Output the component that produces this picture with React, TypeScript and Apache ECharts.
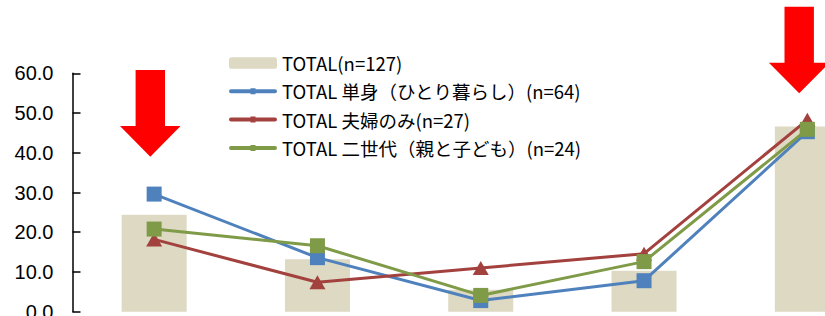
import React, { useEffect, useRef } from "react";
import * as echarts from "echarts";

const categories = ["項目1", "項目2", "項目3", "項目4", "項目5"];
const totalValues = [24.4, 13.2, 5.5, 10.3, 46.6];
const singleValues = [29.6, 13.6, 2.8, 7.8, 45.3];
const coupleValues = [18.2, 7.4, 11.0, 14.6, 48.3];
const twoGenValues = [20.8, 16.6, 4.1, 12.6, 45.9];
const yTicks = { min: 0, max: 60, interval: 10 };

const seriesNames = [
  "TOTAL(n=127)",
  "TOTAL 単身（ひとり暮らし）(n=64)",
  "TOTAL 夫婦のみ(n=27)",
  "TOTAL 二世代（親と子ども）(n=24)",
];

const lineIcon =
  "path://M2,1 L46,1 A2,2 0 0 1 46,5 L2,5 A2,2 0 0 1 2,1 Z M21.5,0 L26.5,0 L26.5,6 L21.5,6 Z";

export default function App() {
  const ref = useRef<HTMLDivElement>(null);
  useEffect(() => {
    document.body.style.margin = "0";
    const chart = echarts.init(ref.current!, null, { renderer: "svg" });
    const arrow = (cx: number, top: number, headY: number, tip: number) => ({
      type: "polygon",
      z: 100,
      shape: {
        points: [
          [cx - 14.7, top],
          [cx + 14.7, top],
          [cx + 14.7, headY],
          [cx + 30.3, headY],
          [cx, tip],
          [cx - 30.3, headY],
          [cx - 14.7, headY],
        ],
      },
      style: { fill: "#FF0000" },
    });
    chart.setOption({
      animation: false,
      grid: {
        left: 72.5,
        right: -64,
        top: 73.3,
        bottom: 4.3,
        outerBoundsMode: "none",
        containLabel: false,
      },
      legend: {
        orient: "vertical",
        left: 229,
        top: 53,
        padding: 0,
        itemWidth: 48,
        itemHeight: 11.5,
        itemGap: 8.3,
        data: [
          { name: seriesNames[0] },
          { name: seriesNames[1], icon: lineIcon },
          { name: seriesNames[2], icon: lineIcon },
          { name: seriesNames[3], icon: lineIcon },
        ],
        textStyle: {
          fontFamily: "Noto Sans CJK JP",
          fontSize: 18.5,
          lineHeight: 20,
          color: "#000",
        },
      },
      xAxis: {
        type: "category",
        data: categories,
        axisLine: { show: false },
        axisTick: { show: false },
        axisLabel: { show: false },
      },
      yAxis: {
        type: "value",
        min: yTicks.min,
        max: yTicks.max,
        interval: yTicks.interval,
        splitLine: { show: false },
        axisLine: { show: true, lineStyle: { color: "#000", width: 1.5 } },
        axisTick: { show: true, inside: true, length: 8, lineStyle: { color: "#000", width: 1.5 } },
        axisLabel: {
          formatter: (v: number) => v.toFixed(1),
          fontFamily: "Liberation Sans, Arial",
          fontSize: 20,
          color: "#000",
          margin: 19,
        },
      },
      series: [
        {
          name: seriesNames[0],
          type: "bar",
          data: totalValues,
          barWidth: 65,
          itemStyle: { color: "#DDD9C3" },
          z: 1,
        },
        {
          name: seriesNames[1],
          type: "line",
          data: singleValues,
          symbol: "rect",
          symbolSize: 15,
          lineStyle: { color: "#4F81BD", width: 3 },
          itemStyle: { color: "#4F81BD" },
          z: 3,
        },
        {
          name: seriesNames[2],
          type: "line",
          data: coupleValues,
          symbol: "triangle",
          symbolSize: [16, 14],
          lineStyle: { color: "#A3413E", width: 3 },
          itemStyle: { color: "#A3413E" },
          z: 4,
        },
        {
          name: seriesNames[3],
          type: "line",
          data: twoGenValues,
          symbol: "rect",
          symbolSize: 15,
          lineStyle: { color: "#7F9B48", width: 3 },
          itemStyle: { color: "#7F9B48" },
          z: 5,
        },
      ],
      graphic: [arrow(150.3, 70, 126, 156.7), arrow(799.2, 6.7, 62.7, 93.3)],
    });
    return () => chart.dispose();
  }, []);
  return <div ref={ref} style={{ width: 825, height: 316 }} />;
}
